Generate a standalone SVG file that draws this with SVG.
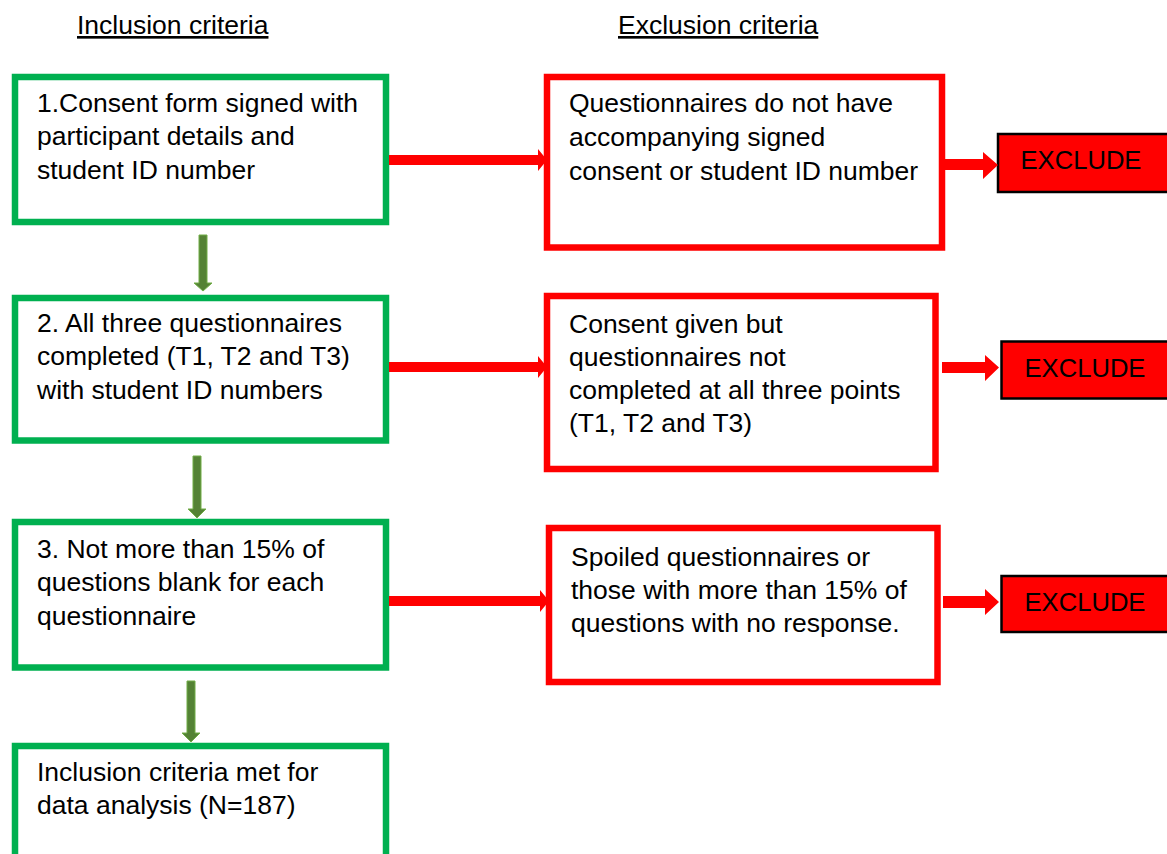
<svg xmlns="http://www.w3.org/2000/svg" width="1167" height="854" viewBox="0 0 1167 854">
<style>
text{font-family:"Liberation Sans",Arial,sans-serif;font-size:26.5px;fill:#000}
.hdr{text-decoration:underline}
.g{fill:#fff;stroke:#00b050;stroke-width:6.5}
.r{fill:#fff;stroke:#ff0000;stroke-width:6.5}
.x{fill:#ff0000;stroke:#000;stroke-width:2.5}
.ra{fill:#ff0000}
.ga{fill:#548235;stroke:#70ad47;stroke-width:1}
.c{text-anchor:middle;font-size:25.6px}
</style>
<rect width="1167" height="854" fill="#fff"/>
<text class="hdr" x="77" y="34">Inclusion criteria</text>
<text class="hdr" x="618" y="34">Exclusion criteria</text>
<g id="inc1"><rect class="g" x="15" y="77" width="371" height="145"/>
<text x="37" y="112">1.Consent form signed with</text><text x="37" y="145">participant details and</text><text x="37" y="179">student ID number</text></g>
<g id="inc2"><rect class="g" x="15" y="298" width="371" height="142.5"/>
<text x="37" y="332">2. All three questionnaires</text><text x="37" y="365">completed (T1, T2 and T3)</text><text x="37" y="399">with student ID numbers</text></g>
<g id="inc3"><rect class="g" x="15" y="522" width="371" height="145.5"/>
<text x="37" y="558">3. Not more than 15% of</text><text x="37" y="591">questions blank for each</text><text x="37" y="625">questionnaire</text></g>
<g id="inc4"><rect class="g" x="15" y="746" width="371" height="130"/>
<text x="37" y="781">Inclusion criteria met for</text><text x="37" y="814">data analysis (N=187)</text></g>
<g id="exc1"><rect class="r" x="547" y="77" width="395" height="170.5"/>
<text x="569" y="112">Questionnaires do not have</text><text x="569" y="146">accompanying signed</text><text x="569" y="180">consent or student ID number</text></g>
<g id="exc2"><rect class="r" x="547" y="296" width="388.5" height="173"/>
<text x="569" y="333">Consent given but</text><text x="569" y="366">questionnaires not</text><text x="569" y="399">completed at all three points</text><text x="569" y="432">(T1, T2 and T3)</text></g>
<g id="exc3"><rect class="r" x="549" y="528" width="388.5" height="154"/>
<text x="571" y="566">Spoiled questionnaires or</text><text x="571" y="599">those with more than 15% of</text><text x="571" y="632">questions with no response.</text></g>
<g id="x1"><rect class="x" x="998" y="134" width="180" height="58"/><text class="c" x="1081" y="169">EXCLUDE</text></g>
<g id="x2"><rect class="x" x="1001.5" y="341.5" width="180" height="57"/><text class="c" x="1085" y="377">EXCLUDE</text></g>
<g id="x3"><rect class="x" x="1001.5" y="576" width="180" height="56"/><text class="c" x="1085" y="611">EXCLUDE</text></g>
<g id="connectors">
<polygon class="ra" points="389,155 538,155 538,149 547,160 538,171 538,165 389,165"/>
<polygon class="ra" points="389,362 538,362 538,356 547,367 538,378 538,372 389,372"/>
<polygon class="ra" points="389,596 540,596 540,590 549,601 540,612 540,606 389,606"/>
<polygon class="ra" points="945,159 983,159 983,152 998,165 983,179 983,170 945,170"/>
<polygon class="ra" points="942,362 985,362 985,355 999,367.5 985,381 985,373 942,373"/>
<polygon class="ra" points="943,596 985,596 985,589 999,602 985,615 985,608 943,608"/>
<polygon class="ga" points="199,235 207,235 207,283 212,283 203,291 194,283 199,283"/>
<polygon class="ga" points="193,456 201,456 201,509 206,509 197,518 188,509 193,509"/>
<polygon class="ga" points="187,681 195,681 195,733 200,733 191,742 182,733 187,733"/>
</g>
</svg>
